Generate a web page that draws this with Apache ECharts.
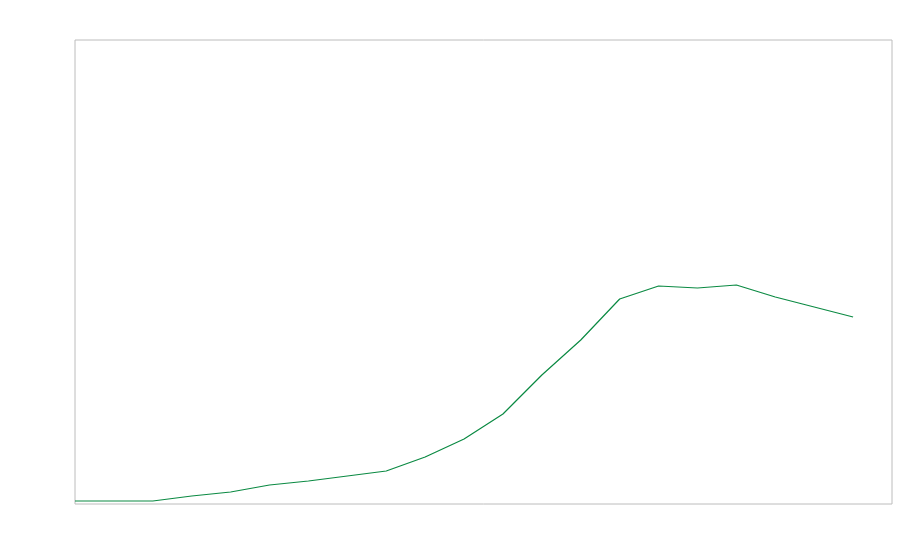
<!DOCTYPE html>
<html><head><meta charset="utf-8">
<script src="https://cdn.jsdelivr.net/npm/echarts@6/dist/echarts.min.js"></script>
<style>html,body{margin:0;padding:0;background:#fff}#c{width:900px;height:560px}</style>
</head><body><div id="c"></div>
<script>
var categories = ['1','2','3','4','5','6','7','8','9','10','11','12','13','14','15','16','17','18','19','20','21','22'];
var values = [3,3,3,8,12,19,23,28,33,47,65,90,129,164,205,218,216,219,207,197,187,null];
var yMin = 0, yMax = 464;
var chart = echarts.init(document.getElementById('c'), null, {renderer:'canvas'});
chart.setOption({
  animation:false,
  grid:{left:75, top:40, right:8, bottom:56, show:true, borderColor:'#bcbcbc', borderWidth:1, backgroundColor:'transparent'},
  xAxis:{type:'category', data:categories, boundaryGap:false, show:false},
  yAxis:{type:'value', min:yMin, max:yMax, show:false},
  series:[{type:'line', data:values, showSymbol:false, symbol:'none', lineStyle:{color:'#0b8a43', width:1.2}, itemStyle:{color:'#0b8a43'}}]
});
</script></body></html>
